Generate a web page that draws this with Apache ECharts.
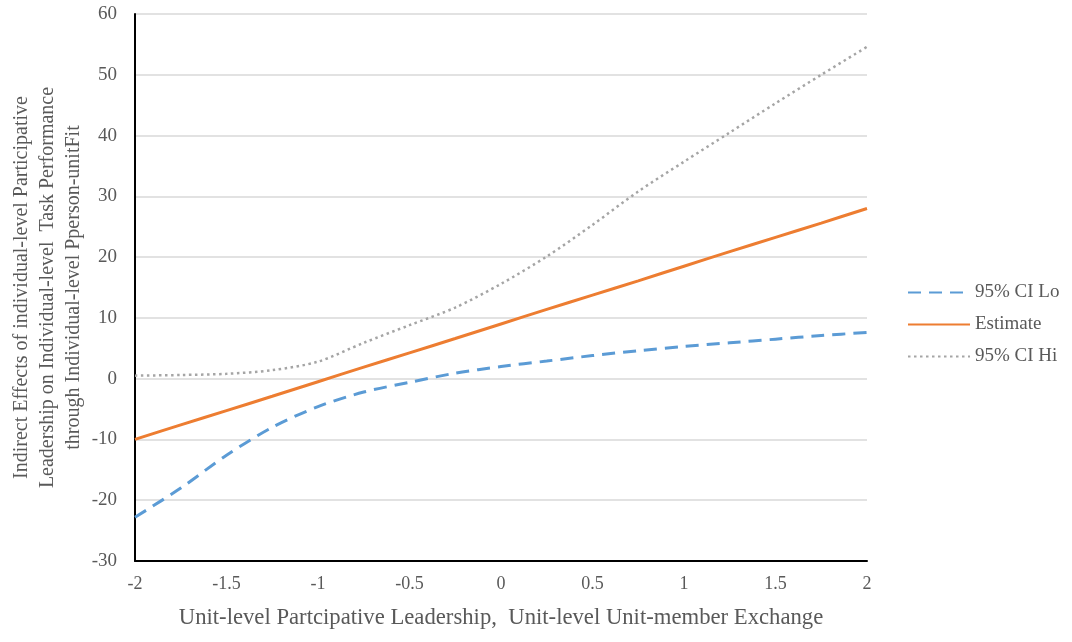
<!DOCTYPE html>
<html>
<head>
<meta charset="utf-8">
<script src="https://cdn.jsdelivr.net/npm/echarts@6/dist/echarts.min.js"></script>
<style>
  html, body { margin: 0; padding: 0; background: #fff; }
  #chart { width: 1072px; height: 642px; }
</style>
</head>
<body>
<div id="chart"></div>
<script>
// Moderator values (x) and conditional indirect effects with 95% CI bounds
const xValues  = [-2, -1.75, -1.5, -1.25, -1, -0.75, -0.5, -0.25, 0, 0.25, 0.5, 0.75, 1, 1.25, 1.5, 1.75, 2];
const ciLo     = [-22.8, -18.0, -12.6, -8.0, -4.6, -2.2, -0.6, 0.9, 2.0, 2.9, 3.8, 4.6, 5.3, 5.9, 6.5, 7.1, 7.6];
const estimate = [-10.0, -7.6, -5.25, -2.9, -0.5, 1.9, 4.25, 6.6, 9.0, 11.4, 13.75, 16.1, 18.5, 20.9, 23.25, 25.6, 28.0];
const ciHi     = [0.5, 0.6, 0.8, 1.4, 2.8, 5.9, 8.8, 11.7, 15.6, 20.1, 25.3, 30.8, 35.7, 40.5, 45.3, 50.0, 54.6];

const seriesNames = ['95% CI Lo', 'Estimate', '95% CI Hi'];
const xTitle = 'Unit-level Partcipative Leadership,  Unit-level Unit-member Exchange';
const yTitle = 'Indirect Effects of individual-level Participative\nLeadership on Individual-level  Task Performance\nthrough Individual-level Pperson-unitFit';

const pairs = ys => xValues.map((x, i) => [x, ys[i]]);
const serif = '"Liberation Serif", "Times New Roman", serif';

const chart = echarts.init(document.getElementById('chart'), null, { renderer: 'canvas' });
chart.setOption({
  backgroundColor: '#ffffff',
  animation: false,
  textStyle: { fontFamily: serif },
  grid: { left: 135, right: 205, top: 14, bottom: 81, containLabel: false, outerBoundsMode: 'none' },
  legend: {
    orient: 'vertical',
    left: 902,
    top: 278,
    itemWidth: 62,
    itemHeight: 14,
    itemGap: 13,
    data: seriesNames,
    itemStyle: { opacity: 0 },
    textStyle: { fontFamily: serif, fontSize: 19, color: '#595959' }
  },
  xAxis: {
    type: 'value',
    min: -2, max: 2, interval: 0.5,
    name: xTitle,
    nameLocation: 'middle',
    nameGap: 46,
    nameMoveOverlap: false,
    nameTextStyle: { fontFamily: serif, fontSize: 22.7, color: '#595959' },
    axisLine: { onZero: false, lineStyle: { color: '#000000', width: 2 } },
    axisTick: { show: false },
    axisLabel: { fontFamily: serif, fontSize: 18, color: '#595959', margin: 14 },
    splitLine: { show: false }
  },
  yAxis: {
    type: 'value',
    min: -30, max: 60, interval: 10,
    name: yTitle,
    nameLocation: 'middle',
    nameRotate: 90,
    nameGap: 48,
    nameMoveOverlap: false,
    nameTextStyle: { fontFamily: serif, fontSize: 20, color: '#595959', lineHeight: 26, align: 'center' },
    axisLine: { show: true, onZero: false, lineStyle: { color: '#000000', width: 2 } },
    axisTick: { show: false },
    axisLabel: { fontFamily: serif, fontSize: 19, color: '#595959', margin: 18 },
    splitLine: { show: true, lineStyle: { color: '#d9d9d9', width: 1.5 } }
  },
  series: [
    {
      name: seriesNames[0], type: 'line', data: pairs(ciLo),
      symbol: 'none', smooth: 0.3, z: 3,
      lineStyle: { color: '#5B9BD5', width: 3, type: [13, 8] },
      itemStyle: { color: '#5B9BD5' }
    },
    {
      name: seriesNames[1], type: 'line', data: pairs(estimate),
      symbol: 'none', smooth: 0.3, z: 4,
      lineStyle: { color: '#ED7D31', width: 3 },
      itemStyle: { color: '#ED7D31' }
    },
    {
      name: seriesNames[2], type: 'line', data: pairs(ciHi),
      symbol: 'none', smooth: 0.3, z: 2,
      lineStyle: { color: '#A5A5A5', width: 2.5, type: [2.5, 3.5] },
      itemStyle: { color: '#A5A5A5' }
    }
  ]
});
</script>
</body>
</html>
